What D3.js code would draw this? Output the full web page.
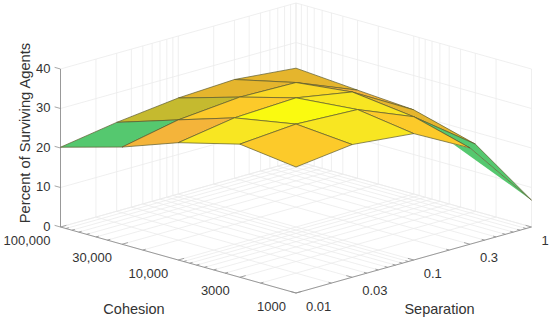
<!DOCTYPE html>
<html>
<head>
<meta charset="utf-8">
<script src="https://cdn.jsdelivr.net/npm/d3@7"></script>
<style>
  html, body { margin: 0; padding: 0; background: #fff; }
  svg { display: block; }
  text { font-family: "Liberation Sans", Arial, sans-serif; fill: #333; }
</style>
</head>
<body>
<svg id="svg"></svg>
<script>
const separationValues = [0.01, 0.03, 0.1, 0.3, 1];
const separationLabels = ["0.01", "0.03", "0.1", "0.3", "1"];
const cohesionValues = [1000, 3000, 10000, 30000, 100000];
const cohesionLabels = ["1000", "3000", "10,000", "30,000", "100,000"];
const percentTicks = [0, 10, 20, 30, 40];

// one row per cohesion value, one column per separation value
const survivalRow1000 = [31.9, 33.6, 32.0, 24.4, 6.8];
const survivalRow3000 = [33.7, 34.8, 34.1, 28.3, 17.0];
const survivalRow10000 = [29.7, 32.0, 32.7, 30.2, 21.3];
const survivalRow30000 = [24.6, 27.5, 28.9, 28.6, 22.3];
const survivalRow100000 = [20.2, 22.5, 24.3, 25.0, 23.5];
const survival = [survivalRow1000, survivalRow3000, survivalRow10000, survivalRow30000, survivalRow100000];

// colour level of each surface face
const faceLevelRow1000 = [4, 5, 4, 0];
const faceLevelRow3000 = [5, 6, 5, 2];
const faceLevelRow10000 = [3, 4, 4.5, 3];
const faceLevelRow30000 = [0, 1, 2, 2];
const faceLevels = [faceLevelRow1000, faceLevelRow3000, faceLevelRow10000, faceLevelRow30000];

// green sliver showing under the front edge near separation 0.3: [separation, cohesion, percent]
const sliverPoints = [[0.2154, 1000, 26.6], [0.3, 1000, 24.4], [1, 1000, 6.8]];

const w = 550;
const h = 321;
const svg = d3.select("#svg").attr("width", w).attr("height", h).attr("viewBox", "0 0 " + w + " " + h);

const sepScale = d3.scaleLog().domain([0.01, 1]).range([0, 1]);
const cohScale = d3.scaleLog().domain([1000, 100000]).range([0, 1]);
const zScale = d3.scaleLinear().domain([0, 40]).range([0, 158]);

// fixed view from above the front corner
const screenX = d3.scaleLinear().domain([-1, 1]).range([60.5, 531.5]);
const screenY = d3.scaleLinear().domain([0, 2]).range([293, 161]);
function project(s, c, z) {
  return [screenX(s - c), screenY(s + c) - zScale(z)];
}
const colour = d3.scaleLinear()
  .domain([0, 1, 2, 3, 4, 5, 6])
  .range(["#55c86f", "#c5ba2f", "#e5b52d", "#f4b43a", "#fcca2a", "#f8e622", "#fafa10"]);

const lineGen = d3.line();
function seg(parent, a, b, stroke, width) {
  parent.append("path")
    .attr("d", lineGen([a, b]))
    .attr("fill", "none")
    .attr("stroke", stroke)
    .attr("stroke-width", width);
}

// grid on floor and the two back walls
const grid = svg.append("g");
const gridCol = "#ebebeb";
sepScale.ticks().forEach(v => {
  const s = sepScale(v);
  seg(grid, project(s, 0, 0), project(s, 1, 0), gridCol, 0.8);
  seg(grid, project(s, 1, 0), project(s, 1, 40), gridCol, 0.8);
});
cohScale.ticks().forEach(v => {
  const c = cohScale(v);
  seg(grid, project(0, c, 0), project(1, c, 0), gridCol, 0.8);
  seg(grid, project(1, c, 0), project(1, c, 40), gridCol, 0.8);
});
percentTicks.forEach(z => {
  seg(grid, project(0, 1, z), project(1, 1, z), gridCol, 0.8);
  seg(grid, project(1, 1, z), project(1, 0, z), gridCol, 0.8);
});

// axes
const axes = svg.append("g");
const axisCol = "#8f8f8f";
seg(axes, project(0, 1, 0), project(0, 1, 40), axisCol, 0.9);
seg(axes, project(0, 1, 0), project(0, 0, 0), axisCol, 0.9);
seg(axes, project(0, 0, 0), project(1, 0, 0), axisCol, 0.9);

cohScale.ticks().forEach(v => {
  const c = cohScale(v);
  const len = cohesionValues.includes(v) ? 0.025 : 0.0125;
  seg(axes, project(0, c, 0), project(len, c, 0), axisCol, 0.8);
});
sepScale.ticks().forEach(v => {
  const s = sepScale(v);
  const len = separationValues.includes(v) ? 0.025 : 0.0125;
  seg(axes, project(s, 0, 0), project(s, len, 0), axisCol, 0.8);
});
percentTicks.forEach(z => {
  seg(axes, project(0, 1, z), project(0, 1.025, z), axisCol, 0.8);
  const p = project(0, 1, z);
  axes.append("text")
    .attr("x", p[0] - 10)
    .attr("y", p[1] - 1)
    .attr("dy", "0.35em")
    .attr("text-anchor", "end")
    .attr("font-size", "13px")
    .text(z);
});

cohesionValues.forEach((v, i) => {
  const p = project(0, cohScale(v), 0);
  axes.append("text")
    .attr("x", p[0] - 10)
    .attr("y", p[1] + 13)
    .attr("dy", "0.35em")
    .attr("text-anchor", "end")
    .attr("font-size", "13px")
    .text(cohesionLabels[i]);
});
separationValues.forEach((v, i) => {
  const p = project(sepScale(v), 0, 0);
  axes.append("text")
    .attr("x", p[0] + 10)
    .attr("y", p[1] + 13)
    .attr("dy", "0.35em")
    .attr("text-anchor", "start")
    .attr("font-size", "13px")
    .text(separationLabels[i]);
});

// sliver goes under the surface
svg.append("path")
  .attr("d", lineGen(sliverPoints.map(d => project(sepScale(d[0]), cohScale(d[1]), d[2]))) + "Z")
  .attr("fill", colour(0));

// surface, painted back to front
const faces = [];
faceLevels.forEach((row, j) => row.forEach((level, i) => faces.push({ i, j, level })));
faces.sort((a, b) => (b.i + b.j) - (a.i + a.j));

function vertex(i, j) {
  return project(sepScale(separationValues[i]), cohScale(cohesionValues[j]), survival[j][i]);
}
svg.append("g").selectAll("path")
  .data(faces)
  .enter()
  .append("path")
  .attr("d", d => lineGen([
    vertex(d.i, d.j), vertex(d.i + 1, d.j), vertex(d.i + 1, d.j + 1), vertex(d.i, d.j + 1)
  ]) + "Z")
  .attr("fill", d => colour(d.level))
  .attr("stroke", "#5c5a2c")
  .attr("stroke-width", 0.7)
  .attr("stroke-linejoin", "round");

// axis titles
svg.append("text")
  .attr("x", 134).attr("y", 309).attr("dy", "0.35em")
  .attr("text-anchor", "middle").attr("font-size", "14.5px")
  .text("Cohesion");
svg.append("text")
  .attr("x", 439.5).attr("y", 309).attr("dy", "0.35em")
  .attr("text-anchor", "middle").attr("font-size", "14.5px")
  .text("Separation");
svg.append("text")
  .attr("transform", "translate(25,133) rotate(-90)")
  .attr("dy", "0.35em")
  .attr("text-anchor", "middle").attr("font-size", "14.7px")
  .text("Percent of Surviving Agents");
</script>
</body>
</html>
